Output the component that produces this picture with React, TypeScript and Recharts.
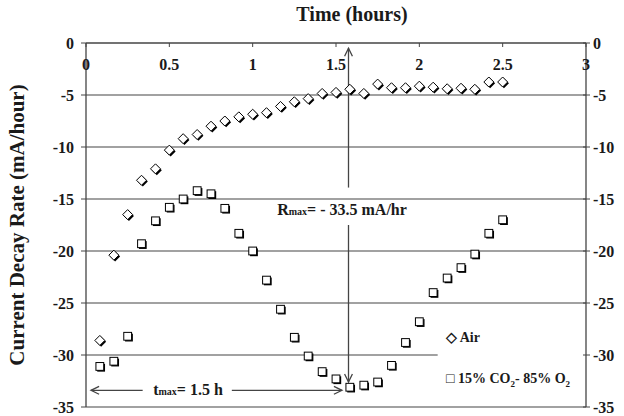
import React from "react";
import {
  ScatterChart, Scatter, XAxis, YAxis, CartesianGrid, ReferenceLine,
  ReferenceDot, Legend,
} from "recharts";

const hours = [0.083, 0.167, 0.25, 0.333, 0.417, 0.5, 0.583, 0.667, 0.75, 0.833, 0.917, 1.0, 1.083, 1.167, 1.25, 1.333, 1.417, 1.5, 1.583, 1.667, 1.75, 1.833, 1.917, 2.0, 2.083, 2.167, 2.25, 2.333, 2.417, 2.5];
const airRate = [-28.6, -20.4, -16.5, -13.2, -12.1, -10.3, -9.2, -8.8, -8.0, -7.5, -7.1, -6.85, -6.7, -6.1, -5.65, -5.35, -4.85, -4.75, -4.45, -4.85, -3.95, -4.3, -4.3, -4.15, -4.25, -4.4, -4.35, -4.45, -3.75, -3.75];
const co2Rate = [-31.1, -30.6, -28.2, -19.3, -17.1, -15.8, -15.0, -14.2, -14.5, -15.9, -18.3, -20.0, -22.8, -25.6, -28.3, -30.1, -31.6, -32.3, -33.1, -32.9, -32.6, -31.0, -28.8, -26.8, -24.0, -22.6, -21.6, -20.3, -18.3, -17.0];

const xTicks = [0, 0.5, 1, 1.5, 2, 2.5, 3];
const yTicks = [0, -5, -10, -15, -20, -25, -30, -35];

const FONT = "'Liberation Serif', 'Times New Roman', serif";
const INK = "#1a1a1a";
const LINE = "#444";

const airData = hours.map((t, i) => ({ t, v: airRate[i] }));
const co2Data = hours.map((t, i) => ({ t, v: co2Rate[i] }));

// diamonds and squares with the little drop shadow of the original
const Diamond = ({ cx, cy }: any) => {
  const r = 5;
  const pts = (dx: number, dy: number) =>
    `${cx + dx},${cy + dy - r} ${cx + dx + r},${cy + dy} ${cx + dx},${cy + dy + r} ${cx + dx - r},${cy + dy}`;
  return (
    <g>
      <polygon points={pts(1.3, 1.3)} fill="#000" />
      <polygon points={pts(0, 0)} fill="#fff" stroke="#000" strokeWidth={1} />
    </g>
  );
};

const Square = ({ cx, cy }: any) => {
  const h = 3.9;
  return (
    <g>
      <rect x={cx - h + 1.3} y={cy - h + 1.3} width={h * 2} height={h * 2} fill="#000" />
      <rect x={cx - h} y={cy - h} width={h * 2} height={h * 2} fill="#fff" stroke="#000" strokeWidth={1} />
    </g>
  );
};

const XTick = ({ x, y, payload }: any) => (
  <g>
    <line x1={x} y1={y} x2={x} y2={y + 4} stroke={LINE} />
    <text x={x} y={y + 27} textAnchor="middle" fontFamily={FONT} fontWeight="bold" fontSize={16} fill={INK}>
      {payload.value}
    </text>
  </g>
);

const LeftTick = ({ x, y, payload }: any) => (
  <g>
    <line x1={x - 5} y1={y} x2={x} y2={y} stroke={LINE} />
    <text x={x - 12} y={y + 5.5} textAnchor="end" fontFamily={FONT} fontWeight="bold" fontSize={16} fill={INK}>
      {payload.value}
    </text>
  </g>
);

const RightTick = ({ x, y, payload }: any) => (
  <g>
    <line x1={x - 3} y1={y} x2={x + 4} y2={y} stroke={LINE} />
    <text x={x + 7} y={y + 5.5} textAnchor="start" fontFamily={FONT} fontWeight="bold" fontSize={16} fill={INK}>
      {payload.value}
    </text>
  </g>
);

// line with an open arrow head at its end point
const arrow = (props: any) => {
  const { x1, y1, x2, y2 } = props;
  const a = Math.atan2(y2 - y1, x2 - x1);
  const len = 9, spread = 0.45;
  const p1 = [x2 - len * Math.cos(a - spread), y2 - len * Math.sin(a - spread)];
  const p2 = [x2 - len * Math.cos(a + spread), y2 - len * Math.sin(a + spread)];
  return (
    <g>
      <line x1={x1} y1={y1} x2={x2} y2={y2} stroke={LINE} strokeWidth={1.3} />
      <polyline points={`${p1[0]},${p1[1]} ${x2},${y2} ${p2[0]},${p2[1]}`} fill="none" stroke={LINE} strokeWidth={1.3} />
    </g>
  );
};

const RmaxLabel = ({ cx, cy }: any) => (
  <text x={cx} y={cy + 5} textAnchor="middle" fontFamily={FONT} fontWeight="bold" fontSize={16} fill={INK}>
    R<tspan fontSize={10}>max</tspan>= - 33.5 mA/hr
  </text>
);

const TmaxLabel = ({ cx, cy }: any) => (
  <text x={cx} y={cy + 5} textAnchor="middle" fontFamily={FONT} fontWeight="bold" fontSize={16} fill={INK}>
    t<tspan fontSize={10}>max</tspan>= 1.5 h
  </text>
);

const LegendBox = () => (
  <div style={{ fontFamily: FONT, fontWeight: "bold", fontSize: 14, color: INK, lineHeight: "16px" }}>
    <div style={{ height: 41 }}>◇ Air</div>
    <div>□ 15% CO<sub style={{ fontSize: 9 }}>2</sub>- 85% O<sub style={{ fontSize: 9 }}>2</sub></div>
  </div>
);

export default function App() {
  return (
    <div style={{ position: "fixed", left: 0, top: 0, width: 624, height: 416, background: "#fff" }}>
      <ScatterChart width={624} height={416} margin={{ top: 13, right: 0, bottom: 9, left: 0 }}>
        <CartesianGrid yAxisId="l" vertical={false} horizontalValues={[-5, -10, -15, -20, -25, -35]} stroke={LINE} strokeWidth={1.2} />
        <XAxis
          type="number" dataKey="t" orientation="top" height={30}
          domain={[0, 3]} ticks={xTicks} allowDataOverflow
          tickSize={0} tickMargin={0} tickLine={false} tick={XTick}
          axisLine={{ stroke: LINE, strokeWidth: 1.3 }}
          label={() => (
            <text x={352} y={21} textAnchor="middle" fontFamily={FONT} fontWeight="bold" fontSize={20} fill={INK}>
              Time (hours)
            </text>
          )}
        />
        <YAxis
          yAxisId="l" type="number" dataKey="v" width={86}
          domain={[-35, 0]} ticks={yTicks} allowDataOverflow
          tickSize={0} tickMargin={0} tickLine={false} tick={LeftTick}
          axisLine={{ stroke: LINE, strokeWidth: 1.3 }}
          label={() => (
            <text x={24} y={225} transform="rotate(-90, 24, 225)" textAnchor="middle" fontFamily={FONT} fontWeight="bold" fontSize={21} fill={INK}>
              Current Decay Rate (mA/hour)
            </text>
          )}
        />
        <YAxis
          yAxisId="r" type="number" orientation="right" width={38}
          domain={[-35, 0]} ticks={yTicks} allowDataOverflow
          tickSize={0} tickMargin={0} tickLine={false} tick={RightTick}
          axisLine={{ stroke: LINE, strokeWidth: 1.3 }}
        />
        <ReferenceLine yAxisId="l" segment={[{ x: 0, y: -30 }, { x: 2.11, y: -30 }]} stroke={LINE} strokeWidth={1.2} />
        <ReferenceLine yAxisId="l" segment={[{ x: 1.575, y: -13.9 }, { x: 1.575, y: -0.5 }]} shape={arrow} />
        <ReferenceLine yAxisId="l" segment={[{ x: 1.575, y: -17.5 }, { x: 1.575, y: -32.6 }]} shape={arrow} />
        <ReferenceLine yAxisId="l" segment={[{ x: 0.34, y: -33.4 }, { x: 0.03, y: -33.4 }]} shape={arrow} />
        <ReferenceLine yAxisId="l" segment={[{ x: 0.875, y: -33.4 }, { x: 1.536, y: -33.4 }]} shape={arrow} />
        <ReferenceDot yAxisId="l" x={1.536} y={-16.06} shape={RmaxLabel} />
        <ReferenceDot yAxisId="l" x={0.612} y={-33.4} shape={TmaxLabel} />
        <Scatter yAxisId="l" name="Air" data={airData} shape={Diamond} isAnimationActive={false} />
        <Scatter yAxisId="l" name="15% CO2- 85% O2" data={co2Data} shape={Square} isAnimationActive={false} />
        <Legend
          content={<LegendBox />}
          wrapperStyle={{ position: "absolute", left: 446, top: 330, width: 150, height: 0, overflow: "visible" }}
        />
      </ScatterChart>
    </div>
  );
}
